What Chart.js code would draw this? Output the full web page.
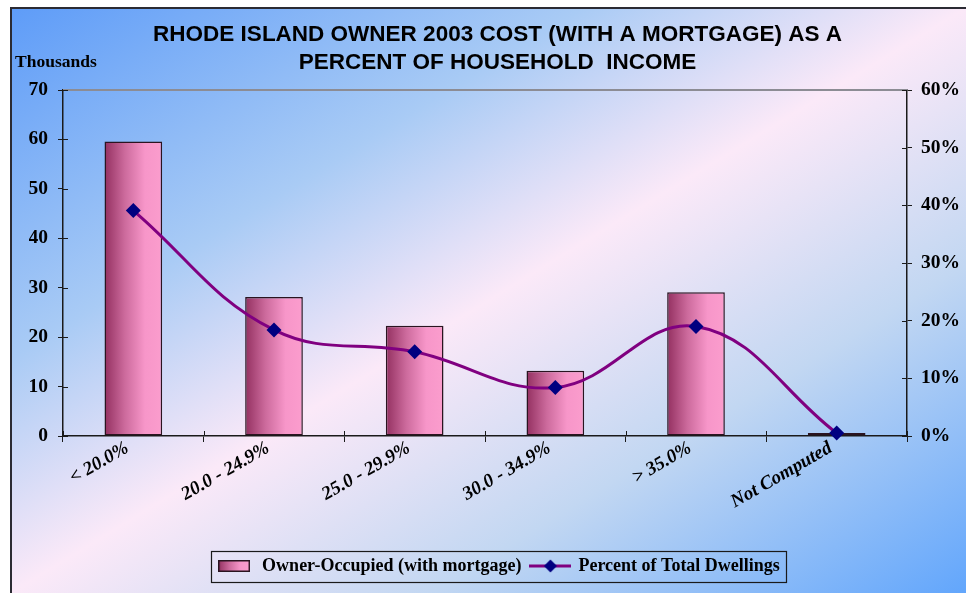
<!DOCTYPE html>
<html>
<head>
<meta charset="utf-8">
<script src="https://cdn.jsdelivr.net/npm/chart.js@4.4.1/dist/chart.umd.min.js"></script>
<style>
  html, body { margin: 0; padding: 0; background: #ffffff; }
  #wrap { width: 966px; height: 593px; position: relative; }
</style>
</head>
<body>
<div id="wrap"><canvas id="c" width="966" height="593"></canvas></div>
<script>
// ---- data ----
const categories = ['< 20.0%', '20.0 - 24.9%', '25.0 - 29.9%', '30.0 - 34.9%', '> 35.0%', 'Not Computed'];
const ownerOccupied = [59.6, 28.1, 22.3, 13.2, 29.1, 0.6];      // thousands
const percentOfTotal = [39.1, 18.4, 14.6, 8.4, 19.0, 0.5];        // percent
const leftTicks = [0, 10, 20, 30, 40, 50, 60, 70];
const rightTicks = [0, 10, 20, 30, 40, 50, 60];
const titleLines = ['RHODE ISLAND OWNER 2003 COST (WITH A MORTGAGE) AS A', 'PERCENT OF HOUSEHOLD  INCOME'];
const leftUnit = 'Thousands';
const barLabel = 'Owner-Occupied (with mortgage)';
const lineLabel = 'Percent of Total Dwellings';

const SERIF = '"Liberation Serif", "Times New Roman", serif';
const TITLE_FONT = '"Liberation Sans Narrow", "Arial Narrow", "Liberation Sans", Arial, sans-serif';
const BAR_PCT = 0.41;

function barGradient(g) {
  g.addColorStop(0, '#933060');
  g.addColorStop(0.35, '#cc6a9c');
  g.addColorStop(0.7, '#f796c9');
  g.addColorStop(1, '#fb9dcd');
  return g;
}

// legend swatches
const barSwatch = document.createElement('canvas');
barSwatch.width = 32; barSwatch.height = 12;
(function () {
  const c = barSwatch.getContext('2d');
  c.fillStyle = barGradient(c.createLinearGradient(0, 0, 32, 0));
  c.fillRect(0, 0, 32, 12);
  c.strokeStyle = '#2a1420'; c.lineWidth = 1.5;
  c.strokeRect(0.75, 0.75, 30.5, 10.5);
})();
const lineSwatch = document.createElement('canvas');
lineSwatch.width = 42; lineSwatch.height = 14;
(function () {
  const c = lineSwatch.getContext('2d');
  c.strokeStyle = '#800080'; c.lineWidth = 3;
  c.beginPath(); c.moveTo(0, 7); c.lineTo(42, 7); c.stroke();
  c.fillStyle = '#000080';
  c.beginPath(); c.moveTo(21, 0.5); c.lineTo(27.5, 7); c.lineTo(21, 13.5); c.lineTo(14.5, 7); c.closePath(); c.fill();
})();

const backgroundPlugin = {
  id: 'bg',
  beforeDraw(chart) {
    const ctx = chart.ctx;
    const W = chart.width, H = chart.height;
    ctx.save();
    ctx.fillStyle = '#ffffff';
    ctx.fillRect(0, 0, W, H);
    const x0 = 11, y0 = 8, w = W - x0, h = H - y0;
    const k = 2 / (1 / (w * w) + 1 / (h * h));
    const g = ctx.createLinearGradient(x0, y0, x0 + k / w, y0 + k / h);
    g.addColorStop(0, '#5e9cf8');
    g.addColorStop(0.3, '#a9cbf5');
    g.addColorStop(0.5, '#fbe9f8');
    g.addColorStop(0.72, '#c2d7f2');
    g.addColorStop(1, '#62a6fc');
    ctx.fillStyle = g;
    ctx.fillRect(x0, y0, w, h);
    ctx.strokeStyle = '#2b2b33';
    ctx.lineWidth = 2;
    ctx.beginPath();
    ctx.moveTo(x0, H); ctx.lineTo(x0, y0); ctx.lineTo(W, y0);
    ctx.stroke();
    // unit label
    ctx.fillStyle = '#000';
    ctx.font = 'bold 17.5px ' + SERIF;
    ctx.textBaseline = 'middle';
    ctx.textAlign = 'left';
    ctx.fillText(leftUnit, 15, 62);
    ctx.restore();
  },
  beforeDatasetsDraw(chart) {
    const ctx = chart.ctx, a = chart.chartArea;
    ctx.save();
    // top border of plot area
    ctx.strokeStyle = '#8c8c94';
    ctx.lineWidth = 2;
    ctx.beginPath(); ctx.moveTo(a.left, a.top); ctx.lineTo(a.right, a.top); ctx.stroke();
    // inner halves of tick marks (ticks cross the axes)
    ctx.strokeStyle = '#1a1a1a';
    ctx.lineWidth = 1;
    const y = chart.scales.y, y2 = chart.scales.y2;
    ctx.beginPath();
    y.ticks.forEach((t, i) => { const p = Math.round(y.getPixelForTick(i)) + 0.5; ctx.moveTo(a.left, p); ctx.lineTo(a.left + 5, p); });
    y2.ticks.forEach((t, i) => { const p = Math.round(y2.getPixelForTick(i)) + 0.5; ctx.moveTo(a.right - 5, p); ctx.lineTo(a.right, p); });
    const n = categories.length;
    for (let i = 0; i <= n; i++) {
      const p = Math.round(a.left + (a.width / n) * i) + 0.5;
      ctx.moveTo(p, a.bottom); ctx.lineTo(p, a.bottom - 5);
    }
    ctx.stroke();
    ctx.restore();
  },
  afterDraw(chart) {
    const lg = chart.legend;
    if (!lg || !lg.legendHitBoxes || !lg.legendHitBoxes.length) return;
    const hb = lg.legendHitBoxes;
    let l = Infinity, r = -Infinity, t = Infinity, b = -Infinity;
    hb.forEach(h => { l = Math.min(l, h.left); r = Math.max(r, h.left + h.width); t = Math.min(t, h.top); b = Math.max(b, h.top + h.height); });
    const ctx = chart.ctx;
    ctx.save();
    ctx.strokeStyle = '#1a1a1a';
    ctx.lineWidth = 1.2;
    const cy = (t + b) / 2;
    ctx.strokeRect(Math.round(l - 4) + 0.5, Math.round(cy - 15.5) + 0.5, Math.round(r - l + 10), 31);
    ctx.restore();
  }
};

const ctxEl = document.getElementById('c');
new Chart(ctxEl, {
  data: {
    labels: categories,
    datasets: [
      {
        type: 'bar',
        label: barLabel,
        data: ownerOccupied,
        yAxisID: 'y',
        order: 2,
        barPercentage: 1,
        categoryPercentage: BAR_PCT,
        borderColor: '#2a1420',
        borderWidth: 1.5,
        borderSkipped: false,
        backgroundColor: (c) => {
          const chart = c.chart;
          const a = chart.chartArea;
          if (!a || c.type !== 'data') return '#f796c9';
          const cx = chart.scales.x.getPixelForValue(c.dataIndex);
          const w = (a.width / categories.length) * BAR_PCT;
          return barGradient(chart.ctx.createLinearGradient(cx - w / 2, 0, cx + w / 2, 0));
        }
      },
      {
        type: 'line',
        label: lineLabel,
        data: percentOfTotal,
        yAxisID: 'y2',
        order: 1,
        borderColor: '#800080',
        borderWidth: 3,
        tension: 0.4,
        pointStyle: 'rectRot',
        pointRadius: 7.5,
        pointHoverRadius: 7.5,
        pointBackgroundColor: '#000080',
        pointBorderColor: '#000080',
        pointBorderWidth: 0,
        clip: false,
        fill: false
      }
    ]
  },
  options: {
    responsive: false,
    animation: false,
    events: [],
    layout: { padding: { left: 29, right: 0, top: 8, bottom: 8 } },
    plugins: {
      title: {
        display: true,
        text: titleLines,
        color: '#000',
        font: { family: TITLE_FONT, size: 22.5, weight: 'bold', lineHeight: 1.25 },
        padding: { top: 13, bottom: 12.75 }
      },
      legend: {
        display: true,
        position: 'bottom',
        labels: {
          usePointStyle: true,
          pointStyleWidth: 38,
          padding: 10,
          color: '#000',
          font: { family: SERIF, size: 18, weight: 'bold' },
          generateLabels: () => ([
            { text: barLabel, pointStyle: barSwatch, datasetIndex: 0, hidden: false, lineWidth: 0, fontColor: '#000' },
            { text: lineLabel, pointStyle: lineSwatch, datasetIndex: 1, hidden: false, lineWidth: 0, fontColor: '#000' }
          ])
        }
      },
      tooltip: { enabled: false }
    },
    scales: {
      x: {
        type: 'category',
        offset: true,
        grid: { display: true, drawOnChartArea: false, drawTicks: true, tickLength: 6, color: '#1a1a1a', offset: true },
        border: { display: true, color: '#1a1a1a', width: 1.5 },
        ticks: {
          color: '#000',
          font: { family: SERIF, size: 19, weight: 'bold', style: 'italic' },
          minRotation: 30, maxRotation: 30,
          autoSkip: false,
          labelOffset: -6,
          padding: -5
        },
        afterFit: (s) => { s.height = 111; }
      },
      y: {
        type: 'linear',
        position: 'left',
        min: 0, max: 70,
        afterBuildTicks: (s) => { s.ticks = leftTicks.map(v => ({ value: v })); },
        grid: { display: true, drawOnChartArea: false, drawTicks: true, tickLength: 5, color: '#1a1a1a' },
        border: { display: true, color: '#1a1a1a', width: 1.5 },
        ticks: { color: '#000', font: { family: SERIF, size: 19.5, weight: 'bold' }, padding: 10 },
        afterFit: (s) => { s.width = 34; }
      },
      y2: {
        type: 'linear',
        position: 'right',
        min: 0, max: 60,
        afterBuildTicks: (s) => { s.ticks = rightTicks.map(v => ({ value: v })); },
        grid: { display: true, drawOnChartArea: false, drawTicks: true, tickLength: 5, color: '#1a1a1a' },
        border: { display: true, color: '#1a1a1a', width: 1.5 },
        ticks: { color: '#000', font: { family: SERIF, size: 19.5, weight: 'bold' }, padding: 9, callback: (v) => v + '%' },
        afterFit: (s) => { s.width = 59; }
      }
    }
  },
  plugins: [backgroundPlugin]
});
</script>
</body>
</html>
